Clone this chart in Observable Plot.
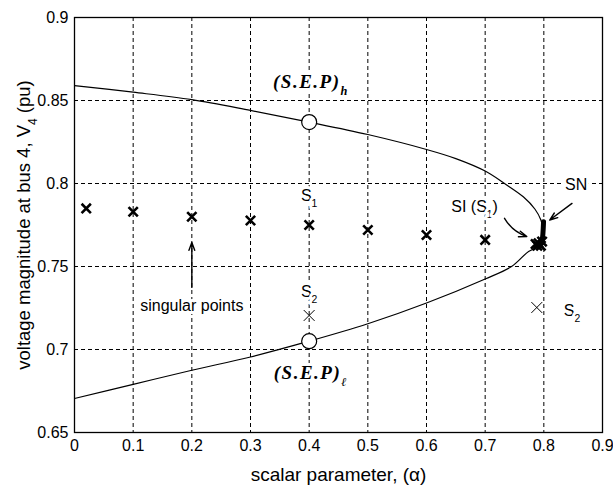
<!DOCTYPE html>
<html>
<head>
<meta charset="utf-8">
<script src="https://cdn.jsdelivr.net/npm/d3@7"></script>
<script src="https://cdn.jsdelivr.net/npm/@observablehq/plot@0.6"></script>
<style>
  html, body { margin: 0; padding: 0; background: white; }
</style>
</head>
<body>
<div id="chart"></div>
<script>
// ---- data ----
const xTicks = [0, 0.1, 0.2, 0.3, 0.4, 0.5, 0.6, 0.7, 0.8, 0.9];
const yTicks = [0.65, 0.7, 0.75, 0.8, 0.85, 0.9];
const xGridLines = [0.1, 0.2, 0.3, 0.4, 0.5, 0.6, 0.7, 0.8];
const yGridLines = [0.7, 0.75, 0.8, 0.85];

// upper (high-voltage) branch of the nose curve, alpha increasing
const upperAlpha = [0, 0.1, 0.2, 0.3, 0.4, 0.5, 0.6, 0.65, 0.7, 0.733, 0.765, 0.785, 0.795, 0.799, 0.800];
const upperV     = [0.859, 0.855, 0.8505, 0.844, 0.837, 0.8295, 0.8205, 0.815, 0.8075, 0.800, 0.792, 0.7845, 0.778, 0.772, 0.767];
// lower (low-voltage) branch, alpha decreasing from the nose
const lowerAlpha = [0.798, 0.790, 0.774, 0.745, 0.7, 0.6, 0.5, 0.4, 0.3, 0.2, 0.1, 0];
const lowerV     = [0.7635, 0.7615, 0.759, 0.750, 0.7425, 0.728, 0.7155, 0.705, 0.6955, 0.6875, 0.679, 0.6705];

// thick part of the curve at the nose (accumulated points)
const noseAlpha = [0.796, 0.798, 0.799, 0.7995];
const noseV     = [0.764, 0.768, 0.773, 0.777];

// singular points (bold crosses)
const singAlpha = [0.02, 0.1, 0.2, 0.3, 0.4, 0.5, 0.6, 0.7, 0.786, 0.791, 0.795, 0.789, 0.797];
const singV     = [0.785, 0.783, 0.780, 0.7777, 0.775, 0.772, 0.769, 0.766, 0.7635, 0.764, 0.7625, 0.7625, 0.765];

// S2 points (thin crosses)
const s2Alpha = [0.4, 0.788];
const s2V     = [0.7205, 0.7253];

// stable equilibrium points (open circles)
const sepAlpha = [0.4, 0.4];
const sepV     = [0.837, 0.705];

// annotation labels (sans)
const labelText  = ["S_1", "S_2", "singular points", "SI (S_1)", "SN", "S_2"];
const labelAlpha = [0.4, 0.4, 0.2, 0.682, 0.855, 0.848];
const labelV     = [0.7928, 0.735, 0.7265, 0.786, 0.799, 0.7235];

// SEP labels (serif bold italic)
const sepText  = ["(S.E.P)_h", "(S.E.P)_ℓ"];
const sepLAlpha = [0.403, 0.403];
const sepLV     = [0.8612, 0.6861];

// straight arrows
const arrowX1 = [0.2, 0.848];
const arrowY1 = [0.7374, 0.788];
const arrowX2 = [0.2, 0.810];
const arrowY2 = [0.7645, 0.778];
// curved arrow (SI)
const siArrowX1 = [0.733], siArrowY1 = [0.779], siArrowX2 = [0.771], siArrowY2 = [0.768];

const xLabel = "scalar parameter, (α)";
const yLabel = "voltage magnitude at bus 4, V_4 (pu)";

// ---- tables ----
const curve = [
  ...upperAlpha.map((a, i) => ({a, v: upperV[i]})),
  ...lowerAlpha.map((a, i) => ({a, v: lowerV[i]}))
];
const nose = noseAlpha.map((a, i) => ({a, v: noseV[i]}));
const sing = singAlpha.map((a, i) => ({a, v: singV[i]}));
const s2 = s2Alpha.map((a, i) => ({a, v: s2V[i]}));
const sep = sepAlpha.map((a, i) => ({a, v: sepV[i]}));
const labels = labelText.map((t, i) => ({t, a: labelAlpha[i], v: labelV[i]}));
const sepLabels = sepText.map((t, i) => ({t, a: sepLAlpha[i], v: sepLV[i]}));
const arrows = arrowX1.map((x1, i) => ({x1, y1: arrowY1[i], x2: arrowX2[i], y2: arrowY2[i]}));
const siArrow = siArrowX1.map((x1, i) => ({x1, y1: siArrowY1[i], x2: siArrowX2[i], y2: siArrowY2[i]}));

const fmt = d => String(+d.toFixed(2));
const sans = "'Liberation Sans', Arial, Helvetica, sans-serif";
const serif = "'Liberation Serif', 'Times New Roman', serif";

const chart = Plot.plot({
  width: 613,
  height: 490,
  marginLeft: 74,
  marginRight: 11,
  marginTop: 17,
  marginBottom: 58,
  x: {domain: [0, 0.9]},
  y: {domain: [0.65, 0.9]},
  style: {fontFamily: sans, fontSize: "16px", background: "white", color: "black"},
  marks: [
    Plot.gridX(xGridLines, {stroke: "black", strokeOpacity: 1, strokeDasharray: "4,3", strokeWidth: 1}),
    Plot.gridY(yGridLines, {stroke: "black", strokeOpacity: 1, strokeDasharray: "4,3", strokeWidth: 1}),
    Plot.line(curve, {x: "a", y: "v", curve: "catmull-rom", stroke: "black", strokeWidth: 1.2}),
    Plot.line(nose, {x: "a", y: "v", curve: "catmull-rom", stroke: "black", strokeWidth: 5, strokeLinecap: "round"}),
    Plot.dot(sing, {x: "a", y: "v", symbol: "times", r: 4.3, stroke: "black", strokeWidth: 2.6}),
    Plot.dot(s2, {x: "a", y: "v", symbol: "times", r: 5, stroke: "black", strokeWidth: 1}),
    Plot.dot(sep, {x: "a", y: "v", r: 7.5, fill: "white", stroke: "black", strokeWidth: 1.2}),
    Plot.arrow(arrows, {x1: "x1", y1: "y1", x2: "x2", y2: "y2", stroke: "black", strokeWidth: 1.4, headLength: 9, headAngle: 40}),
    Plot.arrow(siArrow, {x1: "x1", y1: "y1", x2: "x2", y2: "y2", bend: -20, stroke: "black", strokeWidth: 1.4, headLength: 9, headAngle: 40}),
    Plot.text(labels, {x: "a", y: "v", text: "t", fill: "black", stroke: "white", strokeWidth: 6, fontSize: 16, fontFamily: sans}),
    Plot.text(sepLabels, {x: "a", y: "v", text: "t", fill: "black", stroke: "white", strokeWidth: 6, fontSize: 19, fontFamily: serif, fontWeight: "bold", fontStyle: "italic"}),
    Plot.frame({stroke: "black", strokeWidth: 1.3}),
    Plot.axisX({ticks: xTicks, tickSize: 0, tickPadding: 7, tickFormat: fmt, label: null, fontSize: 16}),
    Plot.axisY({ticks: yTicks, tickSize: 0, tickPadding: 6, tickFormat: fmt, label: null, fontSize: 16}),
    Plot.text([xLabel], {frameAnchor: "bottom", dy: 48, fontSize: 19, fill: "black", fontFamily: sans}),
    Plot.text([yLabel], {frameAnchor: "left", textAnchor: "middle", dx: -50, rotate: -90, fontSize: 18.5, fill: "black", fontFamily: sans})
  ]
});

// convert "base_sub rest" into real subscripts
d3.select(chart).selectAll("text").each(function () {
  const t = this.textContent;
  if (!t.includes("_")) return;
  const m = t.match(/^(.*?)_(.)(.*)$/);
  if (!m) return;
  const sel = d3.select(this);
  sel.text(null);
  sel.append("tspan").text(m[1]);
  sel.append("tspan").attr("baseline-shift", "sub").attr("font-size", "65%").text(m[2]);
  if (m[3]) sel.append("tspan").text(m[3]);
  if (m[1].startsWith("(S.E.P)")) sel.attr("letter-spacing", "1.5px");
});

document.getElementById("chart").appendChild(chart);
</script>
</body>
</html>
